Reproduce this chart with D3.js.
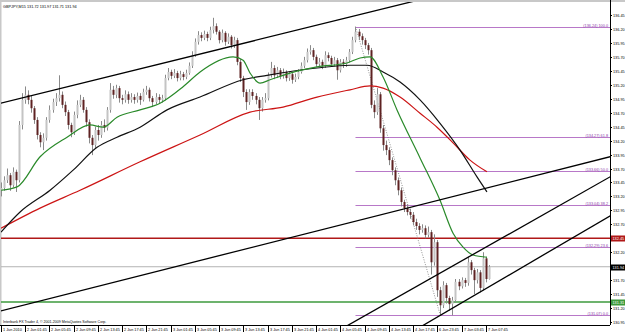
<!DOCTYPE html>
<html>
<head>
<meta charset="utf-8">
<script src="https://cdn.jsdelivr.net/npm/d3@7"></script>
<style>
  body { margin: 0; background: #fff; }
  svg { display: block; font-family: "Liberation Sans", Arial, sans-serif; }
</style>
</head>
<body>
<svg id="chart" width="625" height="332"></svg>
<script>
// candles, one per step
var closes = [133.35,133.49,133.58,133.40,133.64,133.49,134.48,134.93,135.02,134.93,
  134.78,134.57,134.30,134.17,134.25,134.57,134.75,134.89,134.96,135.02,
  134.84,134.71,134.48,134.35,134.66,134.84,134.93,134.75,134.53,134.25,
  134.12,134.39,134.30,134.48,134.43,134.75,135.11,135.02,135.14,134.96,
  134.93,135.03,134.93,134.98,134.93,135.00,134.93,135.07,135.11,134.96,
  134.89,134.98,134.93,134.96,135.32,135.43,135.36,135.41,135.32,135.39,
  135.34,135.41,135.54,135.73,135.97,136.09,136.04,136.11,136.04,136.18,
  136.25,136.15,136.00,136.13,135.97,136.06,135.91,136.00,135.61,135.32,
  135.07,134.89,135.07,135.00,134.93,134.78,134.93,134.96,135.37,135.50,
  135.37,135.46,135.36,135.43,135.32,135.39,135.29,135.34,135.43,135.54,
  135.64,135.79,135.82,135.70,135.57,135.61,135.54,135.73,135.68,135.57,
  135.64,135.46,135.61,135.57,135.64,135.79,136.00,136.15,136.07,136.00,
  135.91,135.82,134.84,134.71,135.03,134.42,134.12,134.03,133.85,133.67,
  133.49,133.31,133.10,132.99,132.92,132.87,132.74,132.67,132.60,132.63,
  132.51,132.56,132.02,132.38,131.52,131.25,131.61,131.38,131.27,131.34,
  131.67,131.59,131.70,131.65,132.02,131.88,131.70,131.84,131.56,132.09,
  131.72,131.94];
var highs = [133.45,133.56,133.70,133.62,133.72,133.68,134.55,135.05,135.17,135.10,
  135.00,134.82,134.62,134.35,134.33,134.62,134.83,134.95,135.05,135.37,
  135.08,134.90,134.75,134.52,134.72,134.92,135.02,134.98,134.80,134.58,
  134.30,134.45,134.48,134.55,134.58,134.80,135.23,135.18,135.20,135.18,
  135.02,135.10,135.08,135.05,135.03,135.06,135.05,135.13,135.18,135.15,
  135.00,135.05,135.03,135.02,135.38,135.50,135.47,135.48,135.45,135.45,
  135.43,135.47,135.60,135.80,136.03,136.16,136.14,136.17,136.15,136.24,
  136.40,136.30,136.18,136.19,136.16,136.12,136.09,136.06,136.04,135.66,
  135.36,135.12,135.12,135.12,135.05,134.98,134.98,135.05,135.42,135.61,
  135.55,135.52,135.50,135.49,135.46,135.44,135.42,135.40,135.48,135.60,
  135.70,135.85,135.91,135.86,135.74,135.68,135.65,135.80,135.78,135.72,
  135.70,135.68,135.66,135.66,135.70,135.84,136.06,136.24,136.20,136.12,
  136.04,135.95,135.86,134.92,135.14,135.07,134.48,134.20,134.08,133.90,
  133.72,133.54,133.36,133.14,133.06,132.98,132.92,132.80,132.72,132.70,
  132.68,132.66,132.60,132.52,132.42,131.58,131.68,131.65,131.42,131.40,
  131.72,131.72,131.75,131.74,132.12,132.06,131.92,131.90,131.88,132.20,
  132.12,131.97];
var lows = [133.20,133.30,133.44,133.30,133.36,133.28,133.45,134.40,134.86,134.85,
  134.70,134.50,134.22,134.08,134.03,134.20,134.52,134.70,134.82,134.90,
  134.78,134.64,134.40,134.26,134.30,134.60,134.80,134.70,134.45,134.15,
  133.94,134.05,134.20,134.25,134.35,134.38,134.70,134.95,134.96,134.88,
  134.85,134.88,134.86,134.88,134.86,134.88,134.84,134.90,135.02,134.90,
  134.80,134.85,134.86,134.88,134.92,135.28,135.30,135.32,135.26,135.28,
  135.28,135.30,135.38,135.50,135.70,135.92,135.98,136.00,135.98,136.00,
  136.12,136.10,135.94,135.96,135.90,135.93,135.85,135.86,135.55,135.25,
  134.98,134.75,134.84,134.93,134.85,134.57,134.72,134.88,134.92,135.33,
  135.30,135.32,135.30,135.31,135.26,135.27,135.22,135.25,135.30,135.40,
  135.50,135.60,135.74,135.64,135.52,135.52,135.48,135.50,135.62,135.52,
  135.53,135.29,135.42,135.50,135.52,135.60,135.75,135.96,136.00,135.92,
  135.84,135.74,134.78,134.60,134.66,134.34,134.02,133.94,133.76,133.58,
  133.40,133.22,133.02,132.92,132.86,132.80,132.68,132.60,132.52,132.55,
  132.45,132.46,131.80,131.96,131.40,131.07,131.20,131.28,131.15,131.07,
  131.30,131.52,131.55,131.58,131.60,131.80,131.45,131.64,131.48,131.52,
  131.66,131.71];
var firstOpen = 133.30;

// moving averages, sampled points [candle index, price]
var maGreen = [[0,133.31],[5.3,133.37],[12.9,133.91],[21.8,134.26],[29.4,134.48],[33.7,134.44],
  [38.3,134.62],[45.9,134.75],[52.5,134.87],[60,135.16],[65.7,135.43],[76.6,135.70],
  [79.9,135.64],[82.2,135.41],[85.5,135.23],[88.8,135.29],[95.4,135.41],[104.3,135.52],
  [114.2,135.59],[118.5,135.68],[121.8,135.70],[126.1,135.34],[130.7,134.75],[138.3,133.89],
  [144.9,133.13],[149.2,132.54],[152.5,132.29],[155.8,132.15],[160.4,132.11]];
var maBlack = [[0,132.56],[6.3,132.92],[16.2,133.31],[23.8,133.67],[31.7,134.08],[38.3,134.26],
  [45.9,134.44],[54.8,134.75],[65.7,134.98],[79.9,135.29],[87.8,135.37],[104.3,135.50],
  [115.2,135.55],[120.8,135.55],[126.1,135.43],[131.7,135.25],[138.3,134.93],[144.9,134.51],
  [151.5,134.03],[157.1,133.55],[160.4,133.28]];
var maRed = [[0,132.63],[12.9,132.99],[26.1,133.31],[45.9,133.82],[65.7,134.30],[82.2,134.71],
  [93.1,134.80],[104.3,134.98],[115.2,135.11],[121.8,135.18],[126.1,135.14],[131.7,134.98],
  [138.3,134.69],[143.9,134.44],[149.2,134.16],[154.8,133.85],[160.4,133.64]];

// trend lines [i1, p1, i2, p2]
var trendLines = [[0,134.87,135,136.68],[0,131.15,201,133.91],[120,131.06,201,133.55],[145,131.07,201,132.85]];
var fibLine = [117,136.24,145,131.07];
var fibStart = 117;
var fibLevels = [100.0, 61.8, 50.0, 38.2, 23.6, 0.0];
var fibHigh = 136.24, fibLow = 131.07;

var redLevel = 132.45, greenLevel = 131.31, lastPrice = 131.94;
var title = "GBPJPY,M15  131.72 131.97 131.71 131.94";
var footer = "Interbank FX Trader 4, \u00a9 2001-2009 MetaQuotes Software Corp.";

var priceTicks = [136.45,136.20,135.95,135.70,135.45,135.20,134.95,134.70,134.45,134.20,
  133.95,133.70,133.45,133.20,132.95,132.70,132.45,132.20,131.95,131.70,131.45,131.20,130.95];
var timeLabels = ["1 Jun 2010","2 Jun 01:45","2 Jun 05:45","2 Jun 09:45","2 Jun 13:45","2 Jun 17:45",
  "2 Jun 21:45","3 Jun 01:45","3 Jun 05:45","3 Jun 09:45","3 Jun 13:45","3 Jun 17:45","3 Jun 21:45",
  "4 Jun 01:45","4 Jun 05:45","4 Jun 09:45","4 Jun 13:45","4 Jun 17:45","6 Jun 23:45","7 Jun 03:45","7 Jun 07:45"];
var timeStep = 8;

var svg = d3.select("#chart");
var plotL = 1, plotR = 610, plotT = 2, plotB = 325;

var x = d3.scaleLinear().domain([0, 201]).range([plotL, plotR]);
var y = d3.scaleLinear().domain([130.95, 136.45]).range([322, 15]);

svg.append("defs").append("clipPath").attr("id", "plot")
  .append("rect").attr("x", plotL).attr("y", plotT).attr("width", plotR - plotL).attr("height", plotB - plotT);

// frame
svg.append("rect").attr("x", 0).attr("y", 0).attr("width", 625).attr("height", 2).attr("fill", "#c8c8c8");
svg.append("rect").attr("x", 0).attr("y", 0).attr("width", 1.5).attr("height", plotB).attr("fill", "#c8c8c8");

var g = svg.append("g").attr("clip-path", "url(#plot)");

// horizontal levels
g.append("line").attr("x1", plotL).attr("x2", plotR).attr("y1", y(lastPrice)).attr("y2", y(lastPrice))
  .attr("stroke", "#b4b4b4").attr("stroke-width", 1);
g.append("line").attr("x1", plotL).attr("x2", plotR).attr("y1", y(redLevel)).attr("y2", y(redLevel))
  .attr("stroke", "#b01818").attr("stroke-width", 1.5);
g.append("line").attr("x1", plotL).attr("x2", plotR).attr("y1", y(greenLevel)).attr("y2", y(greenLevel))
  .attr("stroke", "#3c9a3c").attr("stroke-width", 1.5);

// fibonacci
fibLevels.forEach(function(lv) {
  var p = fibLow + (fibHigh - fibLow) * lv / 100;
  var yy = Math.round(y(p)) + 0.5;
  g.append("line").attr("x1", x(fibStart)).attr("x2", plotR).attr("y1", yy).attr("y2", yy)
    .attr("stroke", "#b878c8").attr("stroke-width", 1.1);
  g.append("text").attr("x", plotR - 2).attr("y", yy - 1).attr("text-anchor", "end")
    .attr("font-size", 3.8).attr("fill", "#8a3aa8")
    .text("(" + p.toFixed(2) + ") " + lv.toFixed(1));
});
g.append("line")
  .attr("x1", x(fibLine[0])).attr("y1", y(fibLine[1])).attr("x2", x(fibLine[2])).attr("y2", y(fibLine[3]))
  .attr("stroke", "#777").attr("stroke-width", 0.8).attr("stroke-dasharray", "1,1.5");

// candles
var opens = [firstOpen].concat(closes.slice(0, -1));
var candles = g.append("g");
closes.forEach(function(c, i) {
  var o = opens[i];
  var cx = Math.round(x(i)) + 0.5;
  candles.append("line").attr("x1", cx).attr("x2", cx).attr("y1", y(highs[i])).attr("y2", y(lows[i]))
    .attr("stroke", "#8a8a8a").attr("stroke-width", 1);
  var yt = y(Math.max(o, c)), yb = y(Math.min(o, c));
  candles.append("rect").attr("x", cx - 1).attr("y", yt).attr("width", 2).attr("height", Math.max(1, yb - yt))
    .attr("fill", c >= o ? "#c4c4c4" : "#5e2222");
});

// moving averages
var maLine = d3.line().x(function(d) { return x(d[0]); }).y(function(d) { return y(d[1]); })
  .curve(d3.curveMonotoneX);
[[maRed, "#cc1414"], [maBlack, "#111"], [maGreen, "#2a8a2a"]].forEach(function(m) {
  g.append("path").attr("d", maLine(m[0])).attr("fill", "none").attr("stroke", m[1]).attr("stroke-width", 1.2);
});

// trend lines
trendLines.forEach(function(t) {
  var s = (t[3] - t[1]) / (t[2] - t[0]);
  var i0 = -1, i1 = 202;
  g.append("line")
    .attr("x1", x(i0)).attr("y1", y(t[1] + s * (i0 - t[0])))
    .attr("x2", x(i1)).attr("y2", y(t[1] + s * (i1 - t[0])))
    .attr("stroke", "#000").attr("stroke-width", 1.3);
});

// texts
svg.append("text").attr("x", 3).attr("y", 8).attr("font-size", 3.8).attr("fill", "#000").text(title);
svg.append("text").attr("x", 3).attr("y", 323).attr("font-size", 3.6).attr("fill", "#000").text(footer);

// price axis
svg.append("line").attr("x1", plotR + 0.5).attr("x2", plotR + 0.5).attr("y1", 0).attr("y2", plotB)
  .attr("stroke", "#000").attr("stroke-width", 1);
priceTicks.forEach(function(p) {
  var yy = Math.round(y(p)) + 0.5;
  svg.append("line").attr("x1", plotR).attr("x2", plotR + 2).attr("y1", yy).attr("y2", yy).attr("stroke", "#000");
  svg.append("text").attr("x", plotR + 3).attr("y", yy + 1.5).attr("font-size", 3.8).attr("fill", "#000").text(p.toFixed(2));
});
[[redLevel, "#b01818"], [lastPrice, "#000"], [greenLevel, "#3c9a3c"]].forEach(function(b) {
  var yy = Math.round(y(b[0])) + 0.5;
  svg.append("rect").attr("x", plotR + 1).attr("y", yy - 3).attr("width", 14).attr("height", 6).attr("fill", b[1]);
  svg.append("text").attr("x", plotR + 2.5).attr("y", yy + 1.5).attr("font-size", 3.8).attr("fill", "#fff").text(b[0].toFixed(2));
});

// time axis
svg.append("line").attr("x1", 0).attr("x2", plotR).attr("y1", plotB + 0.5).attr("y2", plotB + 0.5).attr("stroke", "#000");
timeLabels.forEach(function(t, k) {
  var xx = Math.round(x(k * timeStep)) + 0.5;
  svg.append("line").attr("x1", xx).attr("x2", xx).attr("y1", plotB).attr("y2", 332).attr("stroke", "#000");
  svg.append("text").attr("x", xx + 1.5).attr("y", 331).attr("font-size", 3.8).attr("fill", "#000").text(t);
});
</script>
</body>
</html>
